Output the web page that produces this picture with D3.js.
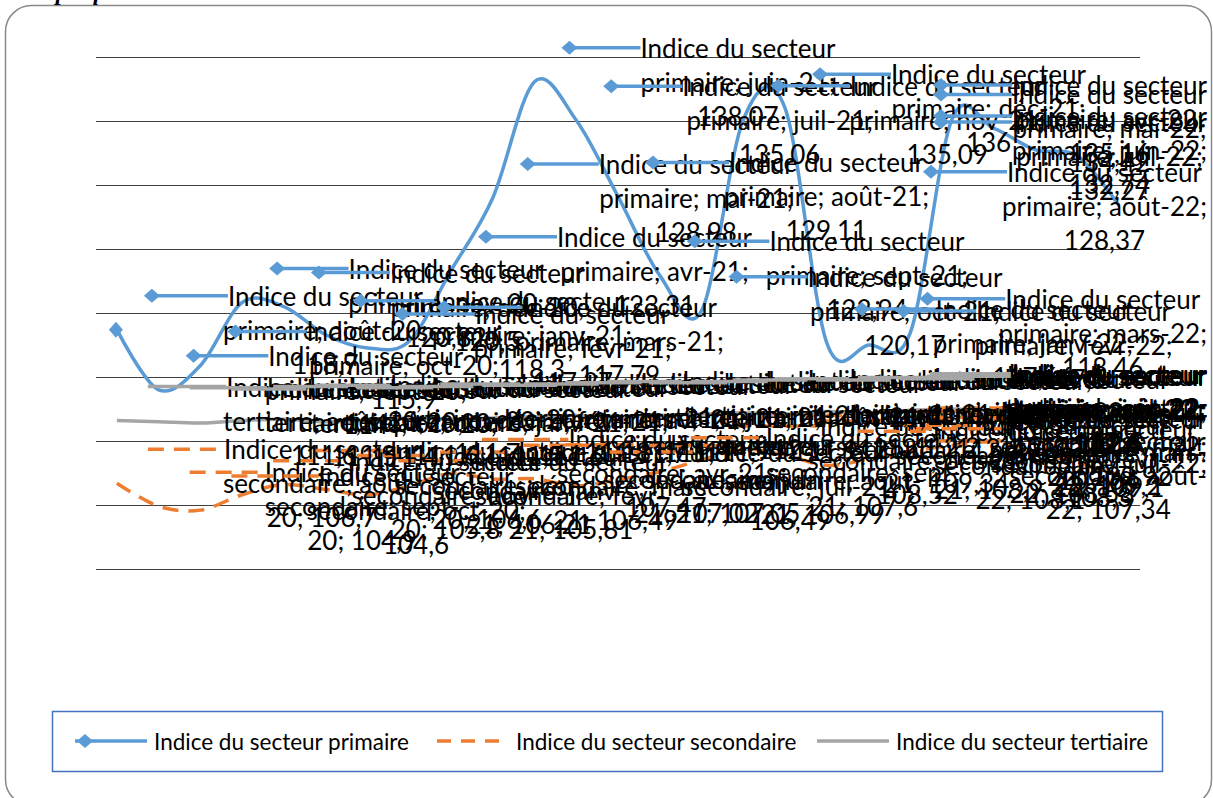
<!DOCTYPE html>
<html lang="fr">
<head>
<meta charset="UTF-8">
<title>Indices des secteurs</title>
<script src="https://d3js.org/d3.v7.min.js"></script>
<style>
  html, body { margin: 0; padding: 0; background: #fff; }
  svg { display: block; }
  text { font-family: Lato, "Open Sans", sans-serif; fill: #000; }
</style>
</head>
<body>
<div id="chart"></div>
<script>
// données
const months = ["août-20", "sept-20", "oct-20", "nov-20", "déc-20", "janv-21", "févr-21", "mars-21",
  "avr-21", "mai-21", "juin-21", "juil-21", "août-21", "sept-21", "oct-21", "nov-21", "déc-21",
  "janv-22", "févr-22", "mars-22", "avr-22", "mai-22", "juin-22", "juil-22", "août-22"];

const primaire = [118.7, 114, 115.9, 120.82, 120.5, 118.3, 117.27, 117.79, 123.31, 128.98, 138.07,
  135.06, 129.11, 122.94, 120.17, 135.09, 136, 117.66, 117.5, 118.46, 135.16, 134.42, 132.74,
  132.27, 128.37];

const secondaire = [106.7, 104.9, 104.6, 105.8, 106.6, 106.21, 105.81, 106.49, 107.47, 107.02,
  107.05, 106.49, 106.99, 107.6, 108.52, 109.34, 108.9, 108.1, 108.58, 109.2, 109.64, 109.92,
  109.1, 108.3, 107.34];

const tertiaire = [111.6, 111.5, 111.4, 111.6, 111.7, 111.5, 111.6, 111.8, 111.7, 111.8, 111.9,
  112, 111.9, 112, 112.1, 112.2, 112.1, 112.3, 112.2, 112.4, 112.5, 112.4, 112.6, 112.5, 112.6];

const gridTicks = [100, 105, 110, 115, 120, 125, 130, 135, 140];

const seriesNames = ["Indice du secteur primaire", "Indice du secteur secondaire", "Indice du secteur tertiaire"];

const width = 1213, height = 798;
const plotLeft = 96, plotRight = 1140;
const labelFont = 26, lineH = 34, rightLimit = 1207;

const svg = d3.select("#chart").append("svg")
    .attr("width", width)
    .attr("height", height);

// cadre arrondi du graphique
svg.append("rect")
    .attr("x", 5.5).attr("y", 5.5)
    .attr("width", 1206).attr("height", 800)
    .attr("rx", 26)
    .attr("fill", "none")
    .attr("stroke", "#8a8a8a")
    .attr("stroke-width", 1.5);

// morceau du titre coupé en haut
svg.append("text")
    .attr("x", 17).attr("y", 0)
    .style("font-family", "'Liberation Serif', serif")
    .style("font-weight", "bold")
    .style("font-style", "italic")
    .style("font-size", "24px")
    .text("Graphique");

const x = d3.scalePoint().domain(months).range([plotLeft, plotRight]).padding(0.5);
const y = d3.scaleLinear().domain([100, 140]).range([569, 57]);

// quadrillage horizontal
const grid = svg.append("g")
    .attr("transform", "translate(" + plotLeft + ",0)")
    .call(d3.axisLeft(y).tickValues(gridTicks).tickSize(-(plotRight - plotLeft)).tickFormat(""));
grid.select(".domain").remove();
grid.selectAll(".tick line").attr("stroke", "#3f3f3f").attr("stroke-width", 1.2);

const series = [
    { name: seriesNames[0], values: primaire, color: "#5B9BD5", dash: null, marker: true },
    { name: seriesNames[1], values: secondaire, color: "#ED7D31", dash: "16,10", marker: false },
    { name: seriesNames[2], values: tertiaire, color: "#A5A5A5", dash: null, marker: false }
];

const line = d3.line()
    .x((d, i) => x(months[i]))
    .y(d => y(d))
    .curve(d3.curveCardinal.tension(0));

const diamond = (cx, cy, w, h) => `M${cx - w},${cy}L${cx},${cy - h}L${cx + w},${cy}L${cx},${cy + h}Z`;

series.forEach(s => {
    svg.append("path")
        .datum(s.values)
        .attr("d", line)
        .attr("fill", "none")
        .attr("stroke", s.color)
        .attr("stroke-width", 3.5)
        .attr("stroke-dasharray", s.dash);
});

// marqueur du premier point primaire
svg.append("path")
    .attr("d", diamond(x(months[0]) - 1, y(primaire[0]), 7, 8))
    .attr("fill", "#5B9BD5");

// mesure du texte
const measure = svg.append("text").style("font-size", labelFont + "px").attr("opacity", 0);
function textW(str) {
    measure.text(str);
    return measure.node().getComputedTextLength();
}
const maxW = textW("secondaire; oct-20;") + 3;

function wrap(str) {
    const tokens = str.match(/[^ \-]*[ \-]|[^ \-]+$/g);
    const lines = [];
    let cur = "";
    tokens.forEach(t => {
        if (cur && textW((cur + t).trim()) > maxW) {
            lines.push(cur.trim());
            cur = t;
        } else {
            cur += t;
        }
    });
    if (cur.trim()) lines.push(cur.trim());
    return lines;
}

const fmt = v => String(v).replace(".", ",");

// étiquettes de données avec clé de légende
const labels = svg.append("g");
series.forEach(s => {
    s.values.forEach((v, i) => {
        const px = x(months[i]);
        const py = y(v);
        const lines = wrap(s.name + "; " + months[i] + "; " + fmt(v));
        const widths = lines.map(textW);
        const W = d3.max(widths);
        let x0 = px + 35;
        let blockLeft = x0 + 71;
        const over = blockLeft + W - rightLimit;
        if (over > 0) { x0 -= over; blockLeft -= over; }
        const cx = blockLeft + W / 2;
        const firstY = py - (lines.length - 1) / 2 * lineH;
        const keyEnd = cx - widths[0] / 2;

        const g = labels.append("g");
        g.append("line")
            .attr("x1", s.marker ? x0 : x0 - 4).attr("x2", keyEnd)
            .attr("y1", firstY).attr("y2", firstY)
            .attr("stroke", s.color)
            .attr("stroke-width", 3.5)
            .attr("stroke-dasharray", s.dash);
        if (s.marker) {
            g.append("path").attr("d", diamond(x0, firstY, 8, 7)).attr("fill", s.color);
        }
        g.selectAll("text.l")
            .data(lines)
            .enter().append("text")
            .attr("class", "l")
            .attr("x", cx)
            .attr("y", (d, j) => firstY + j * lineH)
            .attr("text-anchor", "middle")
            .attr("dominant-baseline", "central")
            .style("font-size", labelFont + "px")
            .text(d => d);
    });
});
measure.remove();

// légende
const legend = svg.append("g");
legend.append("rect")
    .attr("x", 52.5).attr("y", 711.5)
    .attr("width", 1110).attr("height", 60)
    .attr("fill", "#fff")
    .attr("stroke", "#4472C4")
    .attr("stroke-width", 1.5);

const legendX = [75, 437, 817];
series.forEach((s, k) => {
    const lx = legendX[k], ly = 741;
    legend.append("line")
        .attr("x1", lx).attr("x2", lx + 72)
        .attr("y1", ly).attr("y2", ly)
        .attr("stroke", s.color)
        .attr("stroke-width", 3.5)
        .attr("stroke-dasharray", s.dash ? "14,10" : null);
    if (s.marker) {
        legend.append("path").attr("d", diamond(lx + 10, ly, 8, 7)).attr("fill", s.color);
    }
    legend.append("text")
        .attr("x", lx + 79).attr("y", ly)
        .attr("dominant-baseline", "central")
        .style("font-size", "22.5px")
        .text(s.name);
});
</script>
</body>
</html>
